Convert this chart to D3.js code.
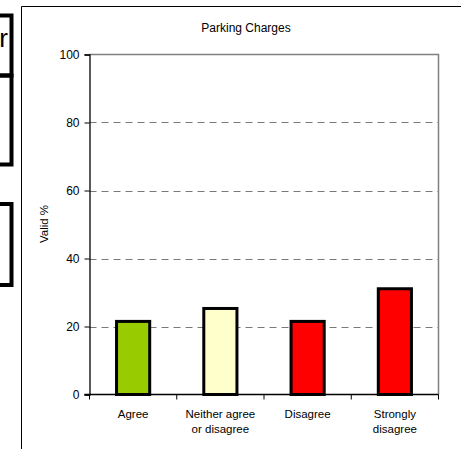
<!DOCTYPE html>
<html>
<head>
<meta charset="utf-8">
<script src="https://cdn.jsdelivr.net/npm/d3@7"></script>
<style>
  html, body { margin: 0; padding: 0; background: #fff; }
  svg { display: block; font-family: Arial, "Liberation Sans", sans-serif; }
</style>
</head>
<body>
<svg id="chart" width="461" height="449"></svg>
<script>
// ---- data ----
const title = "Parking Charges";
const yAxisLabel = "Valid %";
const categories = ["Agree", "Neither agree or disagree", "Disagree", "Strongly disagree"];
const categoryLines = [["Agree"], ["Neither agree", "or disagree"], ["Disagree"], ["Strongly", "disagree"]];
const values = [21.5, 25.3, 21.5, 31.1];
const barColors = ["#99CC00", "#FFFFCC", "#FF0000", "#FF0000"];
const yTicks = [0, 20, 40, 60, 80, 100];
const gridTicks = [20, 40, 60, 80];

// ---- layout ----
const svg = d3.select("#chart");
const plot = { left: 89.5, right: 438.5, top: 54.5, bottom: 394.5 };

const x = d3.scaleBand().domain(categories).range([plot.left, plot.right]).padding(0);
const y = d3.scaleLinear().domain([0, 100]).range([plot.bottom, plot.top]);
const barW = x.bandwidth() * 0.38;

// background left fragments (partially visible boxes from adjacent content)
const frag = svg.append("g").attr("fill", "none").attr("stroke", "#000").attr("stroke-width", 4);
frag.append("rect").attr("x", -20).attr("y", 15.5).attr("width", 31.5).attr("height", 60);
frag.append("rect").attr("x", -20).attr("y", 75.5).attr("width", 31.5).attr("height", 89);
frag.append("rect").attr("x", -20).attr("y", 204).attr("width", 31.5).attr("height", 81);
svg.append("text").attr("x", 8).attr("y", 46.5).attr("text-anchor", "end")
  .attr("font-size", 26).attr("fill", "#000").text("r");

// outer chart frame
svg.append("path").attr("d", "M21.5,449 V6.5 H461").attr("fill", "none")
  .attr("stroke", "#000").attr("stroke-width", 1);

// title
svg.append("text").attr("x", 246).attr("y", 32).attr("text-anchor", "middle")
  .attr("font-size", 12).attr("fill", "#000").text(title);

// gridlines
svg.append("g").selectAll("line").data(gridTicks).join("line")
  .attr("x1", plot.left).attr("x2", plot.right)
  .attr("y1", d => Math.round(y(d)) + 0.5).attr("y2", d => Math.round(y(d)) + 0.5)
  .attr("stroke", "#7a7a7a").attr("stroke-width", 1.2).attr("stroke-dasharray", "7,5");

// plot area top & right border (gray)
svg.append("path")
  .attr("d", `M${plot.left},${y(100)} H${plot.right} V${plot.bottom}`)
  .attr("fill", "none").attr("stroke", "#808080").attr("stroke-width", 1.5);

// bars
svg.append("g").selectAll("rect").data(categories).join("rect")
  .attr("x", d => x(d) + x.bandwidth() / 2 - barW / 2)
  .attr("width", barW)
  .attr("y", (d, i) => y(values[i]))
  .attr("height", (d, i) => y(0) - y(values[i]))
  .attr("fill", (d, i) => barColors[i])
  .attr("stroke", "#000").attr("stroke-width", 3);

// y axis
const yAxis = d3.axisLeft(y).tickValues(yTicks).tickSize(5).tickPadding(5);
const gy = svg.append("g").attr("transform", `translate(${plot.left},0)`).call(yAxis);
gy.select(".domain").attr("stroke", "#000").attr("stroke-width", 1.3);
gy.selectAll(".tick line").attr("stroke", "#000");
gy.selectAll(".tick text").attr("font-size", 12).attr("fill", "#000")
  .attr("font-family", "Arial, 'Liberation Sans', sans-serif");

// x axis baseline and boundary ticks
const boundaries = categories.map(c => x(c)).concat([plot.right]);
svg.append("line").attr("x1", plot.left - 5).attr("x2", plot.right)
  .attr("y1", y(0)).attr("y2", y(0)).attr("stroke", "#000").attr("stroke-width", 1.3);
svg.append("g").selectAll("line").data(boundaries).join("line")
  .attr("x1", d => d).attr("x2", d => d)
  .attr("y1", y(0)).attr("y2", y(0) + 5)
  .attr("stroke", "#000").attr("stroke-width", 1);

// category labels
const labels = svg.append("g").attr("font-size", 11.5).attr("fill", "#000").attr("text-anchor", "middle");
categories.forEach((c, i) => {
  const t = labels.append("text").attr("x", x(c) + x.bandwidth() / 2).attr("y", 417.5);
  categoryLines[i].forEach((ln, j) => {
    t.append("tspan").attr("x", x(c) + x.bandwidth() / 2).attr("dy", j === 0 ? 0 : 15.8).text(ln);
  });
});

// y axis label
svg.append("text").attr("transform", "translate(48,224) rotate(-90)")
  .attr("text-anchor", "middle").attr("font-size", 11.5).attr("fill", "#000").text(yAxisLabel);
</script>
</body>
</html>
